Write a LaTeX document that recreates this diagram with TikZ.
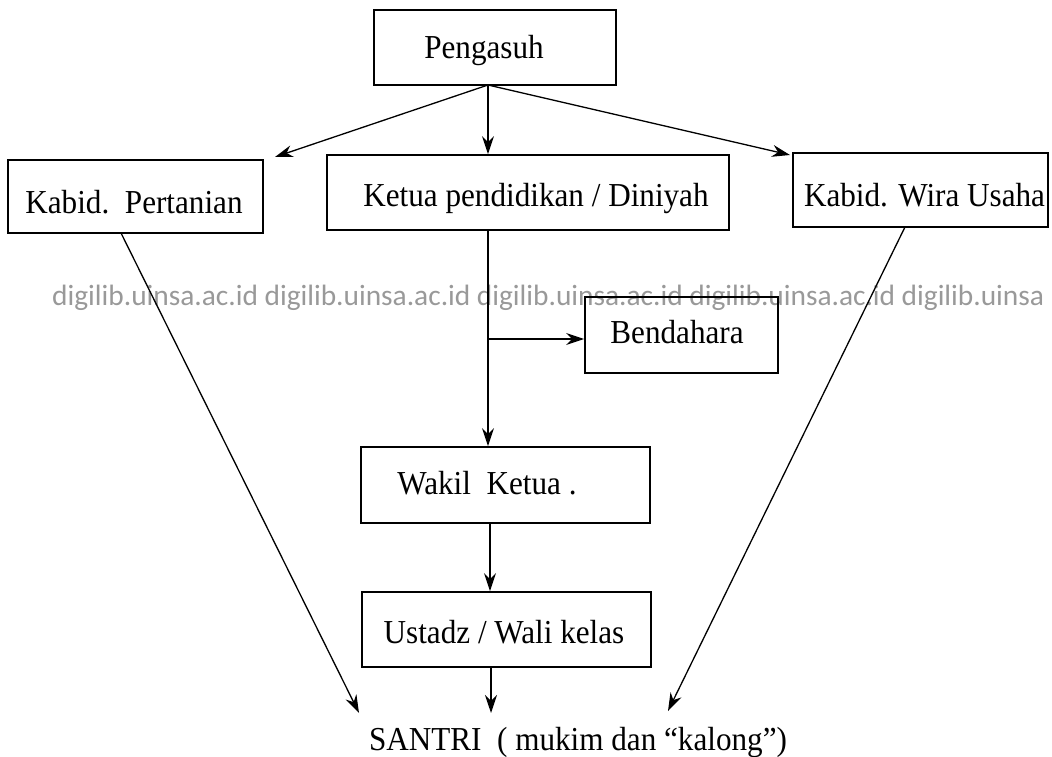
\documentclass[tikz,border=0pt]{standalone}
\usepackage{fontspec}
\setmainfont{Liberation Serif}
\newfontfamily\wmfont{Carlito}
\usetikzlibrary{arrows.meta}
\newcommand{\narrowtxt}[1]{\scalebox{0.93}[1]{#1}}
\begin{document}
\begin{tikzpicture}[x=1pt,y=-1pt,
  box/.style={draw=black, line width=1.7pt, rectangle, inner sep=0pt},
  lbl/.style={inner sep=0pt, font=\fontsize{33.5}{33.5}\selectfont},
  conn/.style={draw=black, line width=1.3pt, -{Stealth[length=18pt,width=12pt]}},
  wm/.style={inner sep=0pt, anchor=base west, text=black!40, font=\wmfont\fontsize{29.4}{29.4}\selectfont}]
\useasboundingbox (0,0) rectangle (1052,757);
% watermark
\node[wm] (wmark) at (52,305) {digilib.uinsa.ac.id digilib.uinsa.ac.id digilib.uinsa.ac.id digilib.uinsa.ac.id digilib.uinsa};
% boxes
\node[box, minimum width=242pt, minimum height=75pt] (peng) at (495,47.5) {};
\node[box, minimum width=255pt, minimum height=73pt] (kp) at (135.5,196.5) {};
\node[box, minimum width=402pt, minimum height=75pt] (ketua) at (528,192.5) {};
\node[box, minimum width=255pt, minimum height=74pt] (kw) at (920.5,190) {};
\node[box, minimum width=193pt, minimum height=76pt] (bend) at (681.5,335) {};
\node[box, minimum width=289pt, minimum height=76pt] (wakil) at (505.5,485) {};
\node[box, minimum width=289pt, minimum height=75pt] (ust) at (506.5,629.5) {};
% labels
\node[lbl] (pengT) at (484,50) {\narrowtxt{Pengasuh}};
\node[lbl] (kpT) at (134,202) {\narrowtxt{Kabid.\ \ Pertanian}};
\node[lbl] (ketuaT) at (536,198) {\narrowtxt{Ketua pendidikan / Diniyah}};
\node[lbl] (kwT) at (924.5,195) {\narrowtxt{Kabid. Wira Usaha}};
\node[lbl] (bendT) at (677,332) {\narrowtxt{Bendahara}};
\node[lbl] (wakilT) at (487,483) {\narrowtxt{Wakil\ \ Ketua .}};
\node[lbl] (ustT) at (504,632) {\narrowtxt{Ustadz / Wali kelas}};
\node[lbl] (santri) at (578,742) {\narrowtxt{SANTRI \ ( mukim dan “kalong”)}};
% connector points
\coordinate (p0) at (488,85);
\coordinate (kpEnd) at (275,157);
\coordinate (kwEnd) at (790,155);
\coordinate (kpFoot) at (121,233);
\coordinate (kwFoot) at (905,227);
\coordinate (sL) at (359,713);
\coordinate (sM) at (491,713);
\coordinate (sR) at (668,711);
\coordinate (br) at (488,339);
% connectors
\draw[conn] (p0) -- (kpEnd);
\draw[conn] (p0) -- (p0 |- ketua.north);
\draw[conn] (p0) -- (kwEnd);
\draw[conn] (ketua.south -| p0) -- (wakil.north -| p0);
\draw[conn] (br) -- (bend.west |- br);
\draw[conn] (wakil.south -| 490,0) -- (ust.north -| 490,0);
\draw[conn] (ust.south -| sM) -- (sM);
\draw[conn] (kpFoot) -- (sL);
\draw[conn] (kwFoot) -- (sR);
\end{tikzpicture}
\end{document}
